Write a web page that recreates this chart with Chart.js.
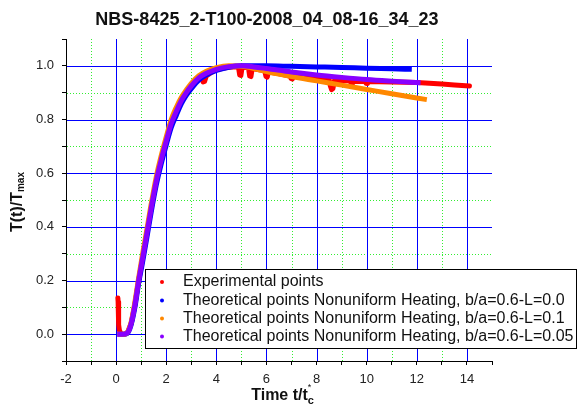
<!DOCTYPE html>
<html>
<head>
<meta charset="utf-8">
<script src="https://cdn.jsdelivr.net/npm/chart.js@4.4.1/dist/chart.umd.min.js"></script>
<style>
    html, body { margin: 0; padding: 0; background: #fff; }
    #graf { display: block; }
</style>
</head>
<body>
<canvas id="graf" width="578" height="420"></canvas>
<script>
// Textos do gráfico
const titulo = 'NBS-8425_2-T100-2008_04_08-16_34_23';
const legendas = [
    'Experimental points',
    'Theoretical points Nonuniform Heating, b/a=0.6-L=0.0',
    'Theoretical points Nonuniform Heating, b/a=0.6-L=0.1',
    'Theoretical points Nonuniform Heating, b/a=0.6-L=0.05'
];
const cores = ['#ff0000', '#0000ff', '#ff8800', '#8800ff'];

// Linhas de grade (valores dos ticks)
const gradeMaiorX = [0, 2, 4, 6, 8, 10, 12, 14];
const gradeMenorX = [-1, 1, 3, 5, 7, 9, 11, 13];
const gradeMaiorY = [0, 0.2, 0.4, 0.6, 0.8, 1.0];
const gradeMenorY = [0.1, 0.3, 0.5, 0.7, 0.9];

// Pontos experimentais
const expX = [0.07, 0.08, 0.09, 0.1, 0.11, 0.13, 0.2, 0.35, 0.45, 0.6, 0.75, 0.9, 1.05, 1.2, 1.4, 1.6, 1.8, 2.0, 2.2, 2.4, 2.6, 2.8, 3.0, 3.3, 3.42, 3.47, 3.53, 3.6, 3.8, 4.0, 4.5, 4.88, 4.93, 4.98, 5.03, 5.28, 5.33, 5.38, 5.43, 5.7, 5.93, 5.98, 6.03, 6.08, 6.5, 6.93, 6.98, 7.03, 7.08, 7.5, 8.0, 8.5, 8.55, 8.6, 8.65, 8.72, 8.85, 8.9, 8.95, 9.0, 9.33, 9.38, 9.43, 9.48, 9.93, 9.98, 10.03, 10.08, 10.5, 11.0, 11.5, 12.0, 12.5, 13.0, 13.5, 14.1];
const expY = [0.135, 0.12, 0.09, 0.06, 0.035, 0.015, 0.0, 0.0, 0.005, 0.04, 0.11, 0.2, 0.28, 0.36, 0.47, 0.57, 0.65, 0.72, 0.785, 0.83, 0.87, 0.9, 0.925, 0.95, 0.954, 0.94, 0.942, 0.962, 0.975, 0.985, 0.995, 0.997, 0.966, 0.964, 0.995, 0.993, 0.962, 0.96, 0.99, 0.985, 0.982, 0.96, 0.958, 0.978, 0.97, 0.962, 0.953, 0.951, 0.96, 0.956, 0.952, 0.949, 0.925, 0.911, 0.915, 0.947, 0.946, 0.938, 0.94, 0.945, 0.944, 0.935, 0.934, 0.943, 0.942, 0.935, 0.934, 0.941, 0.941, 0.94, 0.939, 0.938, 0.935, 0.932, 0.929, 0.925];

// Teórico L=0.0 (azul)
const azulX = [0.05, 0.3, 0.45, 0.6, 0.75, 0.9, 1.05, 1.2, 1.4, 1.6, 1.8, 2.0, 2.2, 2.4, 2.6, 2.8, 3.0, 3.3, 3.6, 4.0, 4.5, 5.0, 5.5, 6.0, 7.0, 8.0, 9.0, 10.0, 11.0, 11.8];
const azulY = [0, 0, 0.003, 0.035, 0.1, 0.19, 0.265, 0.345, 0.455, 0.555, 0.635, 0.705, 0.77, 0.815, 0.858, 0.89, 0.915, 0.947, 0.966, 0.983, 0.995, 1.0, 1.0, 1.0, 0.998, 0.996, 0.994, 0.991, 0.989, 0.987];

// Teórico L=0.1 (laranja)
const laranjaX = [0.05, 0.3, 0.45, 0.6, 0.75, 0.9, 1.05, 1.2, 1.4, 1.6, 1.8, 2.0, 2.2, 2.4, 2.6, 2.8, 3.0, 3.3, 3.6, 4.0, 4.5, 5.0, 5.5, 6.0, 6.5, 7.0, 8.0, 9.0, 10.0, 11.0, 12.4];
const laranjaY = [0, 0, 0.007, 0.045, 0.12, 0.21, 0.295, 0.375, 0.485, 0.585, 0.665, 0.735, 0.8, 0.845, 0.882, 0.91, 0.935, 0.963, 0.98, 0.993, 1.0, 0.998, 0.99, 0.979, 0.969, 0.96, 0.944, 0.928, 0.912, 0.896, 0.874];

// Teórico L=0.05 (roxo)
const roxoX = [0.05, 0.3, 0.45, 0.6, 0.75, 0.9, 1.05, 1.2, 1.4, 1.6, 1.8, 2.0, 2.2, 2.4, 2.6, 2.8, 3.0, 3.3, 3.6, 4.0, 4.5, 5.0, 5.5, 6.0, 7.0, 8.0, 9.0, 10.0, 11.0, 12.15];
const roxoY = [0, 0, 0.005, 0.04, 0.11, 0.2, 0.28, 0.36, 0.47, 0.57, 0.65, 0.72, 0.785, 0.83, 0.87, 0.9, 0.925, 0.955, 0.972, 0.987, 0.997, 1.0, 0.996, 0.99, 0.977, 0.966, 0.957, 0.949, 0.943, 0.937];

const fonte = '"Liberation Sans", Arial, sans-serif';

function pares(xs, ys) {
    return xs.map((x, i) => ({ x: x, y: ys[i] }));
}

// Grade azul (maior) e verde pontilhada (menor)
const gradePlugin = {
    id: 'grade',
    beforeDatasetsDraw(chart) {
        const { ctx, chartArea: a, scales } = chart;
        ctx.save();
        ctx.lineWidth = 1;
        ctx.strokeStyle = '#33ee33';
        ctx.setLineDash([1, 2]);
        gradeMenorX.forEach(v => {
            const px = Math.round(scales.x.getPixelForValue(v)) + 0.5;
            ctx.beginPath(); ctx.moveTo(px, a.top); ctx.lineTo(px, a.bottom); ctx.stroke();
        });
        gradeMenorY.forEach(v => {
            const py = Math.round(scales.y.getPixelForValue(v)) + 0.5;
            ctx.beginPath(); ctx.moveTo(a.left + 1, py); ctx.lineTo(a.right, py); ctx.stroke();
        });
        ctx.setLineDash([]);
        ctx.strokeStyle = '#0000ff';
        gradeMaiorX.forEach(v => {
            const px = Math.round(scales.x.getPixelForValue(v)) + 0.5;
            ctx.beginPath(); ctx.moveTo(px, a.top); ctx.lineTo(px, a.bottom); ctx.stroke();
        });
        gradeMaiorY.forEach(v => {
            const py = Math.round(scales.y.getPixelForValue(v)) + 0.5;
            ctx.beginPath(); ctx.moveTo(a.left + 1, py); ctx.lineTo(a.right, py); ctx.stroke();
        });
        ctx.restore();
    }
};

// Título, títulos dos eixos e legenda
const textosPlugin = {
    id: 'textos',
    afterDraw(chart) {
        const ctx = chart.ctx;
        ctx.save();
        ctx.fillStyle = '#111';
        ctx.textBaseline = 'alphabetic';

        // título
        ctx.font = 'bold 18px ' + fonte;
        ctx.textAlign = 'center';
        ctx.fillText(titulo, 267, 25);

        // eixo x: Time t/t_c*
        ctx.textAlign = 'left';
        ctx.font = 'bold 16px ' + fonte;
        const base = 'Time t/t';
        const wb = ctx.measureText(base).width;
        const x0 = 283 - (wb + 7) / 2;
        ctx.fillText(base, x0, 400);
        ctx.font = 'bold 11px ' + fonte;
        ctx.fillText('c', x0 + wb, 404);
        ctx.font = '9px ' + fonte;
        ctx.fillText('*', x0 + wb, 390);

        // eixo y: T(t)/T_max
        ctx.translate(22, 202);
        ctx.rotate(-Math.PI / 2);
        ctx.font = 'bold 16px ' + fonte;
        const by = 'T(t)/T';
        const wy = ctx.measureText(by).width;
        ctx.font = 'bold 10px ' + fonte;
        const ws = ctx.measureText('max').width;
        const y0 = -(wy + ws) / 2;
        ctx.font = 'bold 16px ' + fonte;
        ctx.fillText(by, y0, 0);
        ctx.font = 'bold 10px ' + fonte;
        ctx.fillText('max', y0 + wy, 2);
        ctx.restore();

        // legenda
        ctx.save();
        ctx.fillStyle = '#fff';
        ctx.fillRect(145.5, 269.5, 431, 79);
        ctx.strokeStyle = '#000';
        ctx.lineWidth = 1;
        ctx.strokeRect(145.5, 269.5, 431, 79);
        ctx.font = '16px ' + fonte;
        ctx.textAlign = 'left';
        ctx.textBaseline = 'middle';
        const linhas = [282, 300.5, 318.5, 336.5];
        legendas.forEach((txt, i) => {
            ctx.fillStyle = cores[i];
            ctx.beginPath();
            ctx.arc(162, linhas[i], 2, 0, Math.PI * 2);
            ctx.fill();
            ctx.fillStyle = '#111';
            ctx.fillText(txt, 183, linhas[i]);
        });
        ctx.restore();
    }
};

const grafico = document.getElementById('graf');

new Chart(grafico, {
    type: 'scatter',
    data: {
        datasets: [
            {
                label: legendas[0],
                data: pares(expX, expY),
                showLine: true,
                borderColor: cores[0],
                backgroundColor: cores[0],
                borderWidth: 5,
                pointRadius: 0,
                borderJoinStyle: 'round',
                borderCapStyle: 'round',
                order: 3
            },
            {
                label: legendas[1],
                data: pares(azulX, azulY),
                showLine: true,
                borderColor: cores[1],
                backgroundColor: cores[1],
                borderWidth: 5,
                pointRadius: 0,
                cubicInterpolationMode: 'monotone',
                order: 2
            },
            {
                label: legendas[2],
                data: pares(laranjaX, laranjaY),
                showLine: true,
                borderColor: cores[2],
                backgroundColor: cores[2],
                borderWidth: 5,
                pointRadius: 0,
                cubicInterpolationMode: 'monotone',
                order: 1
            },
            {
                label: legendas[3],
                data: pares(roxoX, roxoY),
                showLine: true,
                borderColor: cores[3],
                backgroundColor: cores[3],
                borderWidth: 5,
                pointRadius: 0,
                cubicInterpolationMode: 'monotone',
                order: 0
            }
        ]
    },
    options: {
        responsive: false,
        animation: false,
        devicePixelRatio: 1,
        events: [],
        layout: { padding: { top: 39, right: 86, bottom: 0, left: 0 } },
        plugins: {
            legend: { display: false },
            title: { display: false },
            tooltip: { enabled: false }
        },
        scales: {
            x: {
                type: 'linear',
                min: -2,
                max: 15,
                afterFit: function(scale) { scale.height = 59; },
                border: { display: true, color: '#000', width: 1 },
                grid: { drawOnChartArea: false, drawTicks: true, tickLength: 4, color: '#000' },
                ticks: {
                    stepSize: 1,
                    padding: 7,
                    autoSkip: false,
                    maxRotation: 0,
                    color: '#222',
                    font: { family: fonte, size: 13 },
                    callback: function(v) {
                        return (v % 2 === 0 && v < 15) ? String(v) : '';
                    }
                }
            },
            y: {
                type: 'linear',
                min: -0.1,
                max: 1.1,
                afterFit: function(scale) { scale.width = 66; },
                border: { display: true, color: '#000', width: 1 },
                grid: { drawOnChartArea: false, drawTicks: true, tickLength: 4, color: '#000' },
                ticks: {
                    stepSize: 0.1,
                    padding: 8,
                    autoSkip: false,
                    color: '#222',
                    font: { family: fonte, size: 13 },
                    callback: function(v) {
                        const d = Math.round(v * 10);
                        return (d % 2 === 0 && d >= 0 && d <= 10) ? (d / 10).toFixed(1) : '';
                    }
                }
            }
        }
    },
    plugins: [gradePlugin, textosPlugin]
});
</script>
</body>
</html>
